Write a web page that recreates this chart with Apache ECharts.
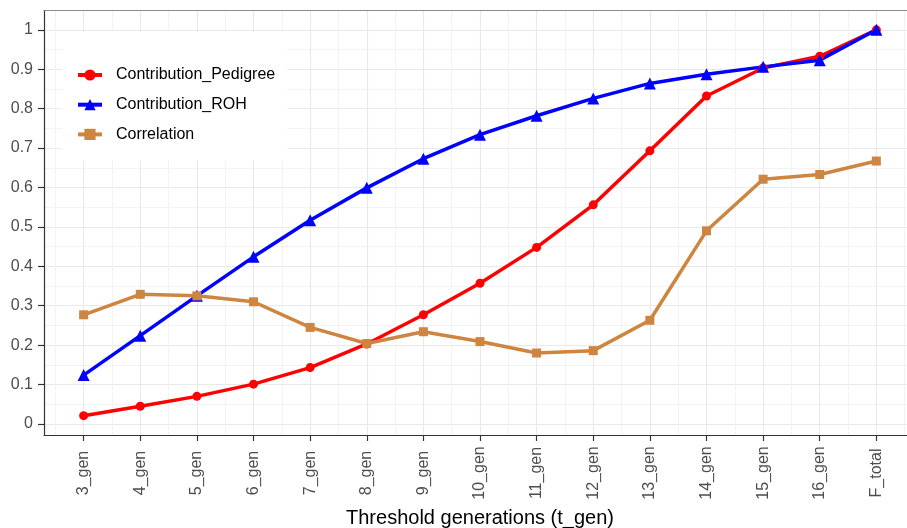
<!DOCTYPE html>
<html>
<head>
<meta charset="utf-8">
<script src="https://cdn.jsdelivr.net/npm/echarts@6/dist/echarts.min.js"></script>
<style>
html,body{margin:0;padding:0;background:#fff;overflow:hidden;}
#c{width:907px;height:528px;}
</style>
</head>
<body>
<div id="c"></div>
<script>
// ---- data ----
const categories = ['3_gen','4_gen','5_gen','6_gen','7_gen','8_gen','9_gen','10_gen','11_gen','12_gen','13_gen','14_gen','15_gen','16_gen','F_total'];
const pedigree    = [0.021,0.045,0.070,0.101,0.143,0.203,0.277,0.357,0.448,0.556,0.693,0.832,0.903,0.933,1.000];
const roh         = [0.124,0.224,0.325,0.424,0.517,0.599,0.673,0.734,0.782,0.826,0.864,0.887,0.906,0.923,1.000];
const correlation = [0.277,0.329,0.325,0.310,0.245,0.204,0.234,0.209,0.180,0.186,0.263,0.490,0.621,0.633,0.667];
const yTicks  = [0,0.1,0.2,0.3,0.4,0.5,0.6,0.7,0.8,0.9,1];
const yLabels = ['0','0.1','0.2','0.3','0.4','0.5','0.6','0.7','0.8','0.9','1'];
const yMinor  = [0.05,0.15,0.25,0.35,0.45,0.55,0.65,0.75,0.85,0.95];
const seriesNames = ['Contribution_Pedigree','Contribution_ROH','Correlation'];

// ---- build ----
const xIdx = categories.map((_, i) => i);
const xMinor = xIdx.map(i => i - 0.5).concat([xIdx.length - 0.5]);
const pairs = arr => arr.map((v, i) => [i, v]);
const FONT = "'Liberation Sans', Arial, Helvetica, sans-serif";

const chart = echarts.init(document.getElementById('c'), null, {renderer: 'canvas'});
chart.setOption({
  animation: false,
  backgroundColor: '#ffffff',
  textStyle: {fontFamily: FONT},
  grid: {left: 44, right: -9, top: 10.5, bottom: 93, containLabel: false, outerBoundsMode: 'none'},
  legend: {
    orient: 'vertical',
    left: 62, top: 32,
    backgroundColor: '#ffffff',
    padding: [35, 12, 18, 14],
    itemWidth: 24, itemHeight: 14, itemGap: 13.7,
    lineStyle: {width: 4},
    textStyle: {fontSize: 16, color: '#000', fontFamily: FONT, padding: [0, 0, 0, 9]},
    data: seriesNames
  },
  xAxis: [{
    type: 'value', min: -0.7, max: 14.7, position: 'bottom',
    axisLine: {show: true, onZero: false, lineStyle: {color: '#333', width: 1.2}},
    axisTick: {show: true, customValues: xIdx, length: 6, lineStyle: {color: '#333', width: 1.2}},
    axisLabel: {
      customValues: xIdx, rotate: 90, fontSize: 16, color: '#4d4d4d', fontFamily: FONT,
      margin: 38, align: 'center', verticalAlign: 'middle',
      formatter: v => categories[Math.round(v)]
    },
    splitLine: {show: true, lineStyle: {color: '#e9e9e9', width: 1.1}},
    name: 'Threshold generations (t_gen)', nameLocation: 'middle', nameGap: 83,
    nameTextStyle: {fontSize: 20, color: '#000', fontFamily: FONT, verticalAlign: 'middle'}
  }, {
    type: 'value', min: -0.7, max: 14.7, position: 'top',
    axisLine: {show: true, onZero: false, lineStyle: {color: '#8c8c8c', width: 1.2}},
    axisTick: {show: false, customValues: xMinor},
    axisLabel: {show: false, customValues: xMinor},
    splitLine: {show: true, lineStyle: {color: '#f3f3f3', width: 1}}
  }],
  yAxis: [{
    type: 'value', min: -0.028, max: 1.049, position: 'left',
    axisLine: {show: true, onZero: false, lineStyle: {color: '#333', width: 1.2}},
    axisTick: {show: true, customValues: yTicks, length: 6, lineStyle: {color: '#333', width: 1.2}},
    axisLabel: {
      customValues: yTicks, fontSize: 16, color: '#4d4d4d', fontFamily: FONT, margin: 11,
      formatter: v => yLabels[Math.round(v * 10)]
    },
    splitLine: {show: true, lineStyle: {color: '#e9e9e9', width: 1.1}}
  }, {
    type: 'value', min: -0.028, max: 1.049, position: 'left',
    axisLine: {show: false, onZero: false},
    axisTick: {show: false, customValues: yMinor},
    axisLabel: {show: false, customValues: yMinor},
    splitLine: {show: true, lineStyle: {color: '#f3f3f3', width: 1}}
  }],
  series: [{
    name: seriesNames[0], type: 'line', xAxisIndex: 0, yAxisIndex: 0,
    data: pairs(pedigree), symbol: 'circle', symbolSize: 9,
    lineStyle: {color: '#ff0000', width: 3.5}, itemStyle: {color: '#ff0000'}
  }, {
    name: seriesNames[1], type: 'line', xAxisIndex: 0, yAxisIndex: 0,
    data: pairs(roh), symbol: 'triangle', symbolSize: 12,
    lineStyle: {color: '#0000ff', width: 3.5}, itemStyle: {color: '#0000ff'}
  }, {
    name: seriesNames[2], type: 'line', xAxisIndex: 0, yAxisIndex: 0,
    data: pairs(correlation), symbol: 'rect', symbolSize: 9,
    lineStyle: {color: '#cd853f', width: 3.5}, itemStyle: {color: '#cd853f'}
  }]
});
</script>
</body>
</html>
